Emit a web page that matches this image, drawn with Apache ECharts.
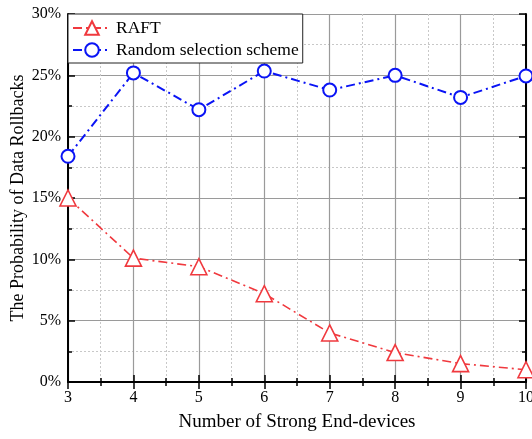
<!DOCTYPE html>
<html><head><meta charset="utf-8">
<script src="https://cdn.jsdelivr.net/npm/echarts@6/dist/echarts.min.js"></script>
<style>html,body{margin:0;padding:0;background:#fff}#c{width:532px;height:439px}</style>
</head><body><div id="c"></div>
<script>
const devices = [3, 4, 5, 6, 7, 8, 9, 10];
const raft = [15.0, 10.1, 9.4, 7.2, 4.0, 2.4, 1.5, 1.0];
const randomScheme = [18.4, 25.2, 22.2, 25.35, 23.8, 25.0, 23.2, 24.95];
const yTicks = [0, 5, 10, 15, 20, 25, 30];

const font = 'Liberation Serif';
const chart = echarts.init(document.getElementById('c'), null, {renderer: 'canvas'});
const pair = (xs, ys) => xs.map((x, i) => [x, ys[i]]);
const frameAxis = {
  axisLine: {show: true, lineStyle: {color: '#000', width: 2}},
  axisTick: {show: true, inside: true, length: 7, lineStyle: {color: '#000', width: 1.5}},
  minorTick: {show: true, splitNumber: 2, length: 4, lineStyle: {color: '#000', width: 1.5}},
  axisLabel: {show: false},
  splitLine: {show: false}
};
chart.setOption({
  animation: false,
  grid: {left: 68, right: 6, top: 14, bottom: 57, containLabel: false, outerBoundsMode: 'none'},
  legend: {
    left: 68, top: 14, orient: 'vertical',
    backgroundColor: '#fff', borderColor: '#222', borderWidth: 1,
    padding: [5, 4, 4, 4], itemGap: 4, itemWidth: 38, itemHeight: 17,
    textStyle: {fontFamily: font, fontSize: 17.5, color: '#000'},
    data: ['RAFT', 'Random selection scheme']
  },
  xAxis: [{
    type: 'value', min: 3, max: 10, interval: 1,
    name: 'Number of Strong End-devices', nameLocation: 'middle', nameGap: 31,
    nameMoveOverlap: false,
    nameTextStyle: {fontFamily: font, fontSize: 19, color: '#000'},
    axisLine: {lineStyle: {color: '#000', width: 2}},
    axisTick: {show: true, inside: true, length: 7, lineStyle: {color: '#000', width: 1.5}},
    minorTick: {show: true, splitNumber: 2, length: 4, lineStyle: {color: '#000', width: 1.5}},
    axisLabel: {fontFamily: font, fontSize: 16, color: '#000', margin: 8},
    splitLine: {show: true, lineStyle: {color: '#9a9a9a', width: 1.2}},
    minorSplitLine: {show: true, lineStyle: {color: '#c8c8c8', type: [2, 2], width: 1}}
  }, Object.assign({type: 'value', min: 3, max: 10, interval: 1, position: 'top'}, frameAxis)],
  yAxis: [{
    type: 'value', min: yTicks[0], max: yTicks[yTicks.length - 1], interval: 5,
    name: 'The Probability of Data Rollbacks', nameLocation: 'middle', nameGap: 41,
    nameMoveOverlap: false,
    nameTextStyle: {fontFamily: font, fontSize: 18, color: '#000'},
    axisLine: {show: true, lineStyle: {color: '#000', width: 2}},
    axisTick: {show: true, inside: true, length: 7, lineStyle: {color: '#000', width: 1.5}},
    minorTick: {show: true, splitNumber: 2, length: 4, lineStyle: {color: '#000', width: 1.5}},
    axisLabel: {fontFamily: font, fontSize: 16, color: '#000', margin: 7, formatter: '{value}%'},
    splitLine: {show: true, lineStyle: {color: '#9a9a9a', width: 1.2}},
    minorSplitLine: {show: true, lineStyle: {color: '#c8c8c8', type: [2, 2], width: 1}}
  }, Object.assign({type: 'value', min: 0, max: 30, interval: 5, position: 'right'}, frameAxis)],
  series: [{
    name: 'RAFT', type: 'line', data: pair(devices, raft),
    symbol: 'triangle', symbolSize: 16, showSymbol: true,
    itemStyle: {color: '#fff', borderColor: '#f0393e', borderWidth: 1.6},
    lineStyle: {color: '#f0393e', width: 1.6, type: [9, 4, 2, 4]},
    z: 3
  }, {
    name: 'Random selection scheme', type: 'line', data: pair(devices, randomScheme),
    symbol: 'circle', symbolSize: 13, showSymbol: true,
    itemStyle: {color: '#fff', borderColor: '#0a14f5', borderWidth: 2},
    lineStyle: {color: '#0a14f5', width: 2, type: [9, 4, 2, 4]},
    z: 3
  }]
});
</script></body></html>
